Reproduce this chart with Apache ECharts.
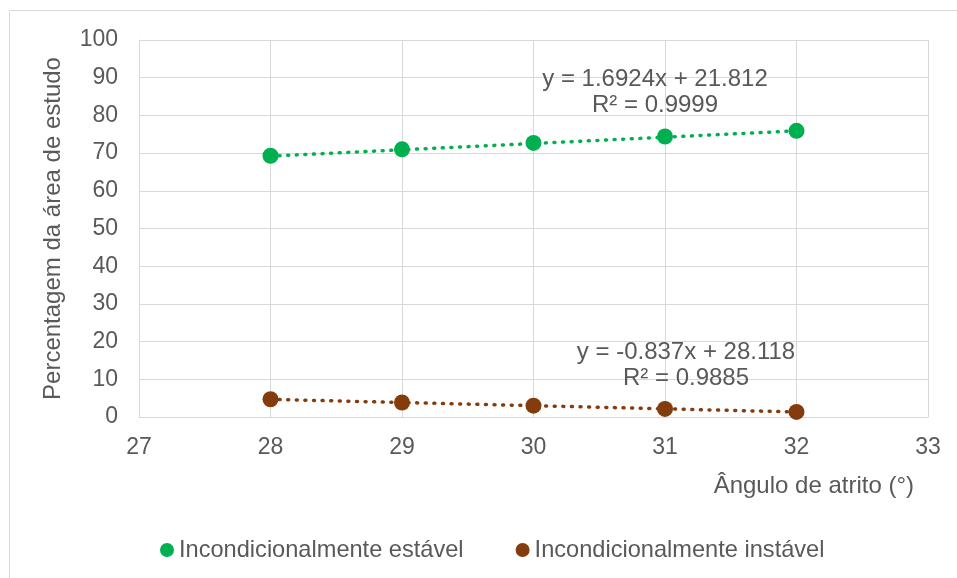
<!DOCTYPE html>
<html>
<head>
<meta charset="utf-8">
<script src="https://cdn.jsdelivr.net/npm/echarts@6/dist/echarts.min.js"></script>
<style>
html,body{margin:0;padding:0;background:#fff;}
#chart{width:957px;height:578px;}
</style>
</head>
<body>
<div id="chart"></div>
<script>
const xValues = [28, 29, 30, 31, 32];
const stableValues = [69.3, 71.0, 72.7, 74.4, 75.9];
const unstableValues = [4.7, 3.85, 3.0, 2.15, 1.35];
const trendX = [28, 32];
const stableTrend = [69.2, 75.9];
const unstableTrend = [4.68, 1.33];
const seriesNames = ['Incondicionalmente estável', 'Incondicionalmente instável'];
const stableEq = ['y = 1.6924x + 21.812', 'R² = 0.9999'];
const unstableEq = ['y = -0.837x + 28.118', 'R² = 0.9885'];
const xTitle = 'Ângulo de atrito (°)';
const yTitle = 'Percentagem da área de estudo';

const FONT = '"Liberation Sans", Arial, sans-serif';
const TXT = '#595959';
const FS = 23;
const FT = 24;
const GREEN = '#00B050';
const BROWN = '#843C0C';

const pair = (xs, ys) => xs.map((x, i) => [x, ys[i]]);

const chart = echarts.init(document.getElementById('chart'));
const eqText = (t, x, y) => ({
  type: 'text', x: x, y: y, z: 10,
  style: { text: t, fill: TXT, font: FT + 'px ' + FONT, textAlign: 'center', textVerticalAlign: 'middle' }
});
chart.setOption({
  animation: false,
  textStyle: { fontFamily: FONT },
  grid: { left: 139, right: 29, top: 40, bottom: 161, containLabel: false },
  xAxis: {
    type: 'value', min: 27, max: 33, interval: 1,
    axisLine: { show: true, lineStyle: { color: '#D9D9D9', width: 1 } },
    axisTick: { show: false },
    splitLine: { show: true, lineStyle: { color: '#D9D9D9', width: 1 } },
    axisLabel: { color: TXT, fontSize: FS, fontFamily: FONT, margin: 19 }
  },
  yAxis: {
    type: 'value', min: 0, max: 100, interval: 10,
    name: yTitle, nameLocation: 'middle', nameGap: 74,
    nameTextStyle: { color: TXT, fontSize: FT, fontFamily: FONT },
    axisLine: { show: true, lineStyle: { color: '#D9D9D9', width: 1 } },
    axisTick: { show: false },
    splitLine: { show: true, lineStyle: { color: '#D9D9D9', width: 1 } },
    axisLabel: { color: TXT, fontSize: FS, fontFamily: FONT, margin: 21 }
  },
  legend: {
    data: seriesNames,
    left: 160, top: 538, padding: 0,
    icon: 'circle', itemWidth: 14, itemHeight: 14, itemGap: 52,
    textStyle: { color: TXT, fontSize: 23.6, fontFamily: FONT }
  },
  graphic: [
    { type: 'rect', z: -10, silent: true, shape: { x: 9.5, y: 10.5, width: 960, height: 600 },
      style: { fill: 'none', stroke: '#D9D9D9', lineWidth: 1 } },
    eqText(stableEq[0], 655, 79),
    eqText(stableEq[1], 655, 105),
    eqText(unstableEq[0], 686, 352),
    eqText(unstableEq[1], 686, 378),
    { type: 'text', x: 914, y: 486, z: 10,
      style: { text: xTitle, fill: TXT, font: FT + 'px ' + FONT, textAlign: 'right', textVerticalAlign: 'middle' } }
  ],
  series: [
    { name: seriesNames[0] + ' trend', type: 'line', data: pair(trendX, stableTrend), symbol: 'none', z: 2,
      lineStyle: { color: GREEN, width: 3.5, type: [1, 7.6], cap: 'round' }, silent: true },
    { name: seriesNames[1] + ' trend', type: 'line', data: pair(trendX, unstableTrend), symbol: 'none', z: 2,
      lineStyle: { color: BROWN, width: 3.5, type: [1, 7.6], cap: 'round' }, silent: true },
    { name: seriesNames[0], type: 'scatter', data: pair(xValues, stableValues), symbol: 'circle', symbolSize: 16, z: 3,
      itemStyle: { color: GREEN, opacity: 1 } },
    { name: seriesNames[1], type: 'scatter', data: pair(xValues, unstableValues), symbol: 'circle', symbolSize: 16, z: 3,
      itemStyle: { color: BROWN, opacity: 1 } }
  ]
});
</script>
</body>
</html>
